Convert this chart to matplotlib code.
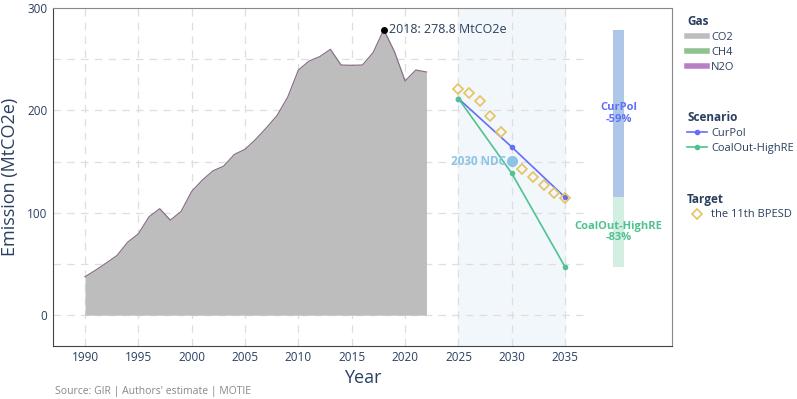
import matplotlib
matplotlib.use("Agg")
import matplotlib.pyplot as plt
from matplotlib.lines import Line2D

plt.rcParams["font.family"] = ["Open Sans", "DejaVu Sans"]

# historical emissions (MtCO2e)
years = list(range(1990, 2023))
co2 = [37.5, 44.0, 51.0, 58.3, 71.3, 79.5, 96.1, 104.0, 92.8, 101.3,
       120.9, 132.0, 141.0, 145.6, 157.0, 162.0, 171.7, 183.0, 195.0, 213.0,
       239.4, 248.2, 252.5, 259.6, 244.3, 244.0, 244.3, 256.4, 278.8, 257.4,
       228.7, 239.4, 237.5]

# scenarios
scen_years = [2025, 2030, 2035]
curpol = [211.5, 164.2, 115.0]
coalout = [211.5, 138.5, 47.0]

# 11th BPESD targets
bpesd_years = [2025, 2026, 2027, 2028, 2029, 2031, 2032, 2033, 2034, 2035]
bpesd = [220.6, 216.7, 208.9, 194.8, 178.5, 143.0, 135.2, 127.4, 119.6, 114.0]

ndc_year = 2030
ndc_value = 150.5
peak_year = 2018
peak_value = 278.8
bar_x = 2040

text_col = "#2a3f5f"
gas_colors = {"CO2": "#bdbdbd", "CH4": "#8fc28f", "N2O": "#b681c4"}
curpol_col = "#636efa"
coal_col = "#4fc38f"
bpesd_col = "#e6c35c"
ndc_col = "#8cc4e6"

fig = plt.figure(figsize=(7.97, 3.99), dpi=100)
ax = fig.add_axes([0.0665, 0.133, 0.7765, 0.847])
ax.set_xlim(1987, 2045)
ax.set_ylim(-30, 300)

# projection band
ax.axvspan(2025, 2035, color="#f2f7fc", zorder=0)

# grid
for x in range(1990, 2036, 5):
    ax.axvline(x, color="#dedede", lw=0.9, ls=(0, (6, 5)), zorder=1)
for y in range(0, 300, 50):
    ax.plot([1987, 2037], [y, y], color="#dedede", lw=0.9, ls=(0, (6, 5)), zorder=1)

# stacked gas area
ax.fill_between(years, 0, co2, color=gas_colors["CO2"], lw=0, zorder=2)
ax.plot(years, co2, color="#8a6f8a", lw=0.9, zorder=3)

ax.plot(peak_year, peak_value, "o", color="black", ms=4, zorder=5)
ax.annotate(f"{peak_year}: {peak_value} MtCO2e", (peak_year, peak_value),
            xytext=(4, 0), textcoords="offset points", va="center", ha="left",
            fontsize=9, color=text_col)

# reduction bars
ax.bar(bar_x, peak_value - curpol[-1], bottom=curpol[-1], width=1.0,
       color="#aec7e8", zorder=2)
ax.bar(bar_x, curpol[-1] - coalout[-1], bottom=coalout[-1], width=1.0,
       color="#d2efe2", zorder=2)
cur_pct = round((curpol[-1] / peak_value - 1) * 100)
coal_pct = round((coalout[-1] / peak_value - 1) * 100)
ax.text(bar_x, 197, f"CurPol\n{cur_pct}%", ha="center", va="center",
        color=curpol_col, fontsize=8, fontweight="bold", linespacing=1.05, zorder=6)
ax.text(bar_x, 81, f"CoalOut-HighRE\n{coal_pct}%", ha="center", va="center",
        color=coal_col, fontsize=8, fontweight="bold", linespacing=1.05, zorder=6)

# scenario lines
ax.plot(scen_years, curpol, "-o", color=curpol_col, lw=1.2, ms=3, zorder=4)
ax.plot(scen_years, coalout, "-o", color=coal_col, lw=1.2, ms=3, zorder=4)

# targets
ax.plot(bpesd_years, bpesd, "D", mfc="none", mec=bpesd_col, mew=1.2, ms=5,
        ls="none", zorder=5)

ax.plot(ndc_year, ndc_value, "o", color=ndc_col, ms=7, zorder=5)
ax.annotate("2030 NDC", (ndc_year, ndc_value), xytext=(-4, 0),
            textcoords="offset points", ha="right", va="center",
            fontsize=8.5, fontweight="bold", color=ndc_col, zorder=6)

ax.set_xticks(range(1990, 2036, 5))
ax.set_yticks([0, 100, 200, 300])
ax.tick_params(length=0, labelsize=8.5, labelcolor=text_col, pad=4)
ax.set_xlabel("Year", fontsize=13, color=text_col, labelpad=3)
ax.set_ylabel("Emission (MtCO2e)", fontsize=13, color=text_col, labelpad=6)
for side in ["left", "bottom"]:
    ax.spines[side].set_color("#444444")
for side in ["top", "right"]:
    ax.spines[side].set_color("#888888")

# legends
gas_handles = [Line2D([], [], color=c, lw=4) for c in gas_colors.values()]
scen_handles = [Line2D([], [], color=curpol_col, marker="o", ms=3, lw=1.2),
                Line2D([], [], color=coal_col, marker="o", ms=3, lw=1.2)]
tgt_handles = [Line2D([], [], color=bpesd_col, marker="D", mfc="none", ms=5,
                      mew=1.2, ls="none")]
legend_kw = dict(frameon=False, fontsize=8, handlelength=1.8, handletextpad=0.35,
                 labelspacing=0.35, alignment="left", borderpad=0, borderaxespad=0,
                 labelcolor=text_col, loc="upper left")
groups = [("Gas", gas_handles, list(gas_colors), 0.9625),
          ("Scenario", scen_handles, ["CurPol", "CoalOut-HighRE"], 0.7225),
          ("Target", tgt_handles, ["the 11th BPESD"], 0.5175)]
for title, handles, labels, ypos in groups:
    leg = fig.legend(handles, labels, title=title, bbox_to_anchor=(0.862, ypos),
                     **legend_kw)
    leg.get_title().set_fontweight("bold")
    leg.get_title().set_color(text_col)
    leg.get_title().set_fontsize(8.5)

fig.text(0.069, 0.012, "Source: GIR | Authors' estimate | MOTIE",
         fontsize=7.5, color="#888888")

fig.savefig("out.png", dpi=100)
